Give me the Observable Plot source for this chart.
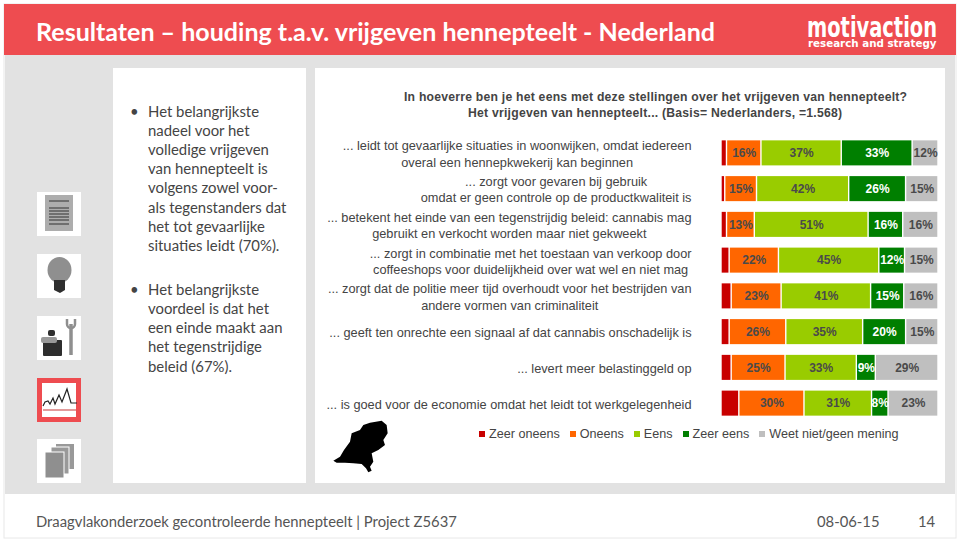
<!DOCTYPE html>
<html><head><meta charset="utf-8">
<script src="https://cdn.jsdelivr.net/npm/d3@7"></script>
<script src="https://cdn.jsdelivr.net/npm/@observablehq/plot@0.6"></script>
<style>
html,body{margin:0;padding:0;background:#fff;width:960px;height:541px;overflow:hidden}
#back,#chart,#legend{position:absolute}
#back{left:0;top:0}
#chart{left:315px;top:125px}
#chart svg{background:transparent;display:block}
#legend{left:479px;top:426px;display:flex;gap:10px;font:12.6px "Liberation Sans",Arial,sans-serif;color:#444;white-space:nowrap}
#legend span{display:flex;align-items:center;gap:4px;line-height:16px}
#legend i{display:inline-block;width:6px;height:6px}
</style></head><body>
<svg id="back" width="960" height="541" viewBox="0 0 960 541" xmlns="http://www.w3.org/2000/svg">
  <rect x="4" y="4" width="952" height="534" fill="#fff" stroke="#e8e8e8"/>
  <rect x="5" y="55" width="950" height="439" fill="#e2e2e2"/>
  <rect x="4" y="4" width="952" height="51" fill="#ee4c50"/>
  <rect x="113" y="68" width="193" height="415" fill="#fff"/>
  <rect x="315" y="68" width="630" height="415" fill="#fff"/>
  <text x="36" y="41" fill="#fff" font-family="Lato" font-weight="700" font-size="24.5" textLength="679" lengthAdjust="spacingAndGlyphs">Resultaten – houding t.a.v. vrijgeven hennepteelt - Nederland</text>
  <text transform="translate(807 36.5) scale(.884 1.25)" fill="#fff" font-family="DejaVu Sans" font-weight="700" font-size="22">motivaction</text>
  <text x="808" y="46.5" fill="#fff" font-family="DejaVu Sans" font-weight="700" font-size="10.3">research and strategy</text>
  <g font-family="Lato" font-size="14.9" fill="#444">
    <text x="130" y="117">•</text>
    <text x="148" y="117">Het belangrijkste</text>
    <text x="148" y="136">nadeel voor het</text>
    <text x="148" y="155">volledige vrijgeven</text>
    <text x="148" y="174">van hennepteelt is</text>
    <text x="148" y="193">volgens zowel voor-</text>
    <text x="148" y="213">als tegenstanders dat</text>
    <text x="148" y="232">het tot gevaarlijke</text>
    <text x="148" y="251">situaties leidt (70%).</text>
    <text x="130" y="295">•</text>
    <text x="148" y="295">Het belangrijkste</text>
    <text x="148" y="314">voordeel is dat het</text>
    <text x="148" y="333">een einde maakt aan</text>
    <text x="148" y="352">het tegenstrijdige</text>
    <text x="148" y="372">beleid (67%).</text>
  </g>
  <g font-family="Liberation Sans" font-weight="700" font-size="12.2" fill="#444" text-anchor="middle">
    <text x="655.5" y="101" textLength="503">In hoeverre ben je het eens met deze stellingen over het vrijgeven van hennepteelt?</text>
    <text x="655" y="117" textLength="374">Het vrijgeven van hennepteelt... (Basis= Nederlanders, =1.568)</text>
  </g>
  <g font-family="Lato" font-size="14.8" fill="#555">
    <text x="36" y="527">Draagvlakonderzoek gecontroleerde hennepteelt | Project Z5637</text>
    <text x="817" y="527">08-06-15</text>
    <text x="918" y="527">14</text>
  </g>
  <!-- icon cards -->
  <g fill="#fff">
    <rect x="37" y="192" width="44" height="44"/><rect x="37" y="254" width="44" height="44"/>
    <rect x="37" y="316" width="44" height="44"/><rect x="37" y="439" width="44" height="44"/>
  </g>
  <rect x="45" y="195" width="28" height="36" fill="#adadad"/>
  <path d="M49 201h20M49 208h20M49 211h20M49 214h20M49 217h20M49 220h20M49 224h20" stroke="#333" stroke-width="1.2"/>
  <ellipse cx="59.5" cy="270" rx="12" ry="13" fill="#8f8f8f"/>
  <path d="M54 280h11v10l-5 3l-6-3z" fill="#2e2e2e"/>
  <rect x="43" y="340" width="19" height="16" rx="1" fill="#2e2e2e"/>
  <rect x="41" y="337" width="16" height="6" rx="2" fill="#999"/>
  <rect x="48" y="330" width="7" height="6" rx="2" fill="#2e2e2e"/>
  <path d="M71 324v31" stroke="#8f8f8f" stroke-width="3.5"/>
  <path d="M67 319v5a4 4 0 0 0 8 0v-5" fill="none" stroke="#8f8f8f" stroke-width="2.5"/>
  <rect x="39.5" y="380.5" width="39" height="39" fill="#fff" stroke="#ee4c50" stroke-width="5"/>
  <path d="M43 406l2-4l3-1l2 3l3-6l2 6l4-9l3 7l5-13l4 14l6 0" fill="none" stroke="#222" stroke-width="1.2"/>
  <path d="M43 410h33" stroke="#d97a7a" stroke-width="1.5"/>
  <rect x="56" y="444" width="18" height="25" fill="#999"/>
  <rect x="51" y="447" width="18" height="27" fill="#999" stroke="#fff" stroke-width="1"/>
  <rect x="45" y="452" width="19" height="26" fill="#8f8f8f" stroke="#fff" stroke-width="1"/>
  <!-- map of the Netherlands -->
  <path transform="translate(320 400) scale(.3333)" fill="#000" d="M150 68L185 62L200 75L203 100L190 120L195 135L175 150L155 160L160 185L150 200L155 212L145 217L138 205L125 192L100 190L75 188L50 188L40 182L60 170L72 150L90 125L95 100L120 90L130 75Z"/>
</svg>
<div id="chart"></div>
<div id="legend"></div>
<script>
const seriesNames = ["Zeer oneens","Oneens","Eens","Zeer eens","Weet niet/geen mening"];
const seriesColors = ["#c80000","#ff6600","#99cc00","#007f00","#bfbfbf"];
const statements = [
  "... leidt tot gevaarlijke situaties in woonwijken, omdat iedereen\noveral een hennepkwekerij kan beginnen",
  "... zorgt voor gevaren bij gebruik\nomdat er geen controle op de productkwaliteit is",
  "... betekent het einde van een tegenstrijdig beleid: cannabis mag\ngebruikt en verkocht worden maar niet gekweekt",
  "... zorgt in combinatie met het toestaan van verkoop door\ncoffeeshops voor duidelijkheid over wat wel en niet mag",
  "... zorgt dat de politie meer tijd overhoudt voor het bestrijden van\nandere vormen van criminaliteit",
  "... geeft ten onrechte een signaal af dat cannabis onschadelijk is",
  "... levert meer belastinggeld op",
  "... is goed voor de economie omdat het leidt tot werkgelegenheid"
];
const zeerOneens = [2.5,1.7,2.5,3.7,4.6,3.7,4.6,8.1];
const oneens     = [15.7,14.4,12.6,22.4,22.6,25.7,24.4,29.6];
const eens       = [36.6,41.8,51.6,45.6,40.5,34.9,32.3,30.7];
const zeerEens   = [32.3,25.8,15.7,11.7,15,19.5,8.6,7.5];
const weetNiet   = [11.8,14.7,16,15.2,15.5,14.7,28.4,22.7];
const oneensLabels   = ["16%","15%","13%","22%","23%","26%","25%","30%"];
const eensLabels     = ["37%","42%","51%","45%","41%","35%","33%","31%"];
const zeerEensLabels = ["33%","26%","16%","12%","15%","20%","9%","8%"];
const weetNietLabels = ["12%","15%","16%","15%","16%","15%","29%","23%"];

const columns = [zeerOneens,oneens,eens,zeerEens,weetNiet];
const labels = [statements.map(()=>""),oneensLabels,eensLabels,zeerEensLabels,weetNietLabels];
const rows = seriesNames.flatMap((s,i)=>statements.map((st,j)=>({statement:st,series:s,value:columns[i][j],label:labels[i][j]})));

const FONT = '12.75px "Liberation Sans"';
const barPx = 217, labelGapPx = 30;
const ctx = document.createElement("canvas").getContext("2d");
ctx.font = FONT;
const blockWidth = s => Math.max(...s.split("\n").map(l=>ctx.measureText(l).width));
// each statement is a centred block whose right edge sits just left of the bars
const labelRows = statements.map(s=>({statement:s,x:-(labelGapPx+blockWidth(s)/2)/barPx}));

const stackOpts = {x:"value",y:"statement",z:"series",offset:"normalize",order:null};
const chart = Plot.plot({
  width:630,height:306,marginLeft:406,marginRight:7,marginTop:10,marginBottom:10,
  x:{domain:[0,1],axis:null},
  y:{domain:statements,axis:null,paddingInner:0.3,paddingOuter:0.15,round:false},
  color:{domain:seriesNames,range:seriesColors},
  marks:[
    Plot.barX(rows,Plot.stackX({...stackOpts,fill:"series",insetLeft:0.7,insetRight:0.7})),
    Plot.text(rows,Plot.stackX({...stackOpts,text:"label",fontWeight:700,fontSize:12,fontFamily:"Liberation Sans",
      fill:{value:d=>d.series==="Zeer eens"?"#fff":"#4a4a4a",scale:null}})),
    Plot.text(labelRows,{x:"x",y:"statement",text:"statement",textAnchor:"middle",lineHeight:1.27,
      fontFamily:"Liberation Sans",fontSize:12.75,fill:"#444"})
  ]
});
document.getElementById("chart").append(chart);
const legend = d3.select("#legend");
seriesNames.forEach((s,i)=>{
  const item = legend.append("span");
  item.append("i").style("background",seriesColors[i]);
  item.append("b").style("font-weight","400").text(s);
});
</script>
</body></html>
